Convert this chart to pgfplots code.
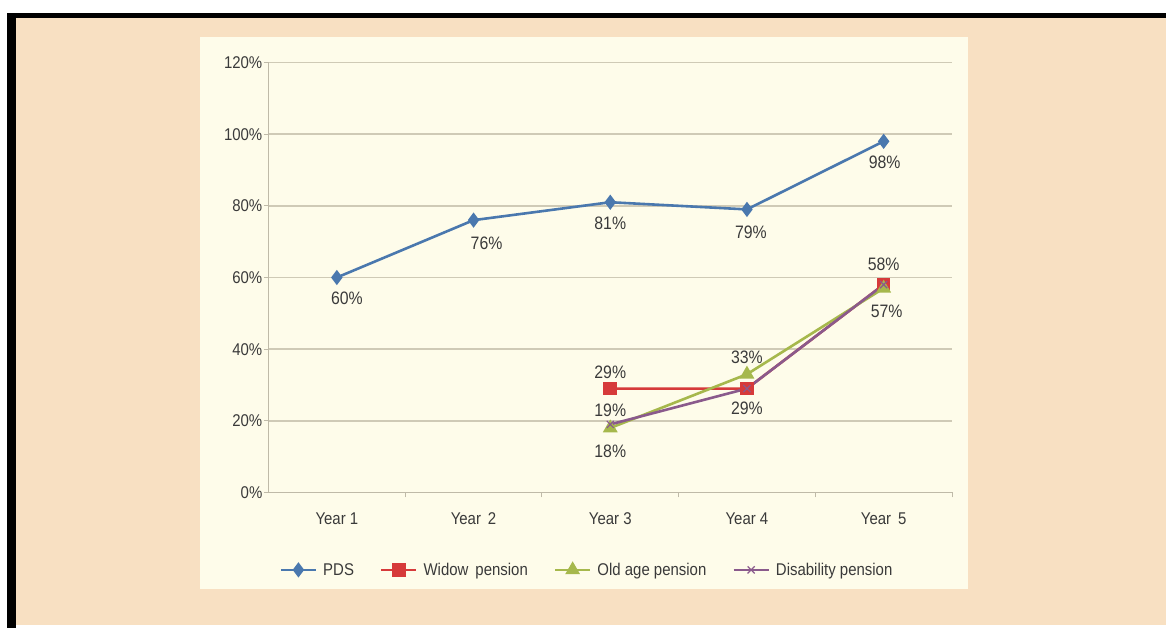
\documentclass[border=0pt]{standalone}
\usepackage{fontspec}
\setmainfont{Liberation Sans}[FakeStretch=0.88]
\usepackage{pgfplots}
\usepackage{pgfplotstable}
\pgfplotsset{compat=1.18}
\definecolor{peach}{HTML}{F8E0C2}
\definecolor{cream}{HTML}{FEFCEA}
\definecolor{gridc}{HTML}{CFCAB6}
\definecolor{axc}{HTML}{BFBAA8}
\definecolor{pdsc}{HTML}{4A78AE}
\definecolor{widc}{HTML}{D63A3A}
\definecolor{oldc}{HTML}{A6B84C}
\definecolor{disc}{HTML}{8A5A8C}
\definecolor{txt}{HTML}{3A3A3A}

\pgfplotstableread{
x y lab xs ys
1 60 60\% 10 -21
2 76 76\% 13 -23
3 81 81\% 0 -21
4 79 79\% 4 -23
5 98 98\% 1 -21
}\pds
\pgfplotstableread{
x y lab xs ys
3 29 29\% 0 16
4 29 29\% 0 -20
5 58 58\% 0 20
}\wid
\pgfplotstableread{
x y lab xs ys
3 18 18\% 0 -23
4 33 33\% 0 17
5 57 57\% 3 -23
}\old
\pgfplotstableread{
x y lab xs ys
3 19 19\% 0 14
4 29 {} 0 0
5 58 {} 0 0
}\dis

\begin{document}
\begin{tikzpicture}[x=1bp,y=1bp]
\fill[white] (0,0) rectangle (1166,628);
\fill[peach] (16,3) rectangle (1166,610);
\fill[black] (7,610) rectangle (1166,615);
\fill[black] (7,0) rectangle (16,615);
\fill[cream] (200,39) rectangle (968,591);
\begin{axis}[
  at={(268.5bp,135.5bp)}, anchor=south west,
  scale only axis, width=683.5bp, height=430bp,
  xmin=0.5, xmax=5.5, ymin=0, ymax=120,
  axis x line=bottom, axis y line=left,
  axis line style={-, draw=axc, line width=1.2bp},
  xtick={1,2,3,4,5},
  xticklabels={Year 1,Year\,\ 2,Year 3,Year 4,Year\,\ 5},
  minor xtick={1.5,2.5,3.5,4.5,5.5},
  ytick={0,20,...,120},
  yticklabel={\pgfmathprintnumber{\tick}\%},
  tick align=outside,
  major tick length=5bp, minor tick length=5bp,
  every major x tick/.append style={draw=none},
  every minor x tick/.append style={draw=axc, line width=1bp},
  every major y tick/.append style={draw=axc, line width=1bp},
  ymajorgrids,
  major grid style={draw=gridc, line width=1.6bp},
  xticklabel style={yshift=-12bp},
  yticklabel style={inner sep=1bp},
  tick label style={font=\fontsize{17bp}{20bp}\selectfont, text=txt},
  /pgf/number format/assume math mode=true,
  clip=false,
  legend columns=4,
  legend style={at={(axis description cs:0.466,-0.18)}, anchor=center,
    draw=none, fill=none, font=\fontsize{17bp}{20bp}\selectfont, text=txt,
    /tikz/every even column/.append style={column sep=24bp},
    /tikz/every odd column/.append style={column sep=4bp}},
  legend image code/.code={
    \draw[mark repeat=2,mark phase=2] plot coordinates {(0bp,0bp) (17.5bp,0bp) (35bp,0bp)};},
  nodes near coords, point meta=explicit symbolic,
  visualization depends on={\thisrow{xs} \as \xs},
  visualization depends on={\thisrow{ys} \as \ys},
  every node near coord/.append style={anchor=center, xshift=\xs bp, yshift=\ys bp,
    font=\fontsize{18bp}{21bp}\selectfont, text=txt},
]
\addplot[pdsc, line width=2.6bp, mark=diamond*, mark size=5.5bp, mark options={solid, fill=pdsc, draw=pdsc}]
  table[x=x, y=y, meta=lab] {\pds};
\addlegendentry{PDS}
\addplot[widc, line width=2.6bp, mark=square*, mark size=5.5bp, mark options={solid, fill=widc, draw=widc}]
  table[x=x, y=y, meta=lab] {\wid};
\addlegendentry{Widow\,\ pension}
\addplot[oldc, line width=2.6bp, mark=triangle*, mark size=6bp, mark options={solid, fill=oldc, draw=oldc}]
  table[x=x, y=y, meta=lab] {\old};
\addlegendentry{Old age pension}
\addplot[disc, line width=2.6bp, mark=x, mark size=5bp, mark options={solid, draw=disc, line width=1.2bp}]
  table[x=x, y=y, meta=lab] {\dis};
\addlegendentry{Disability pension}
\end{axis}
\end{tikzpicture}
\end{document}
